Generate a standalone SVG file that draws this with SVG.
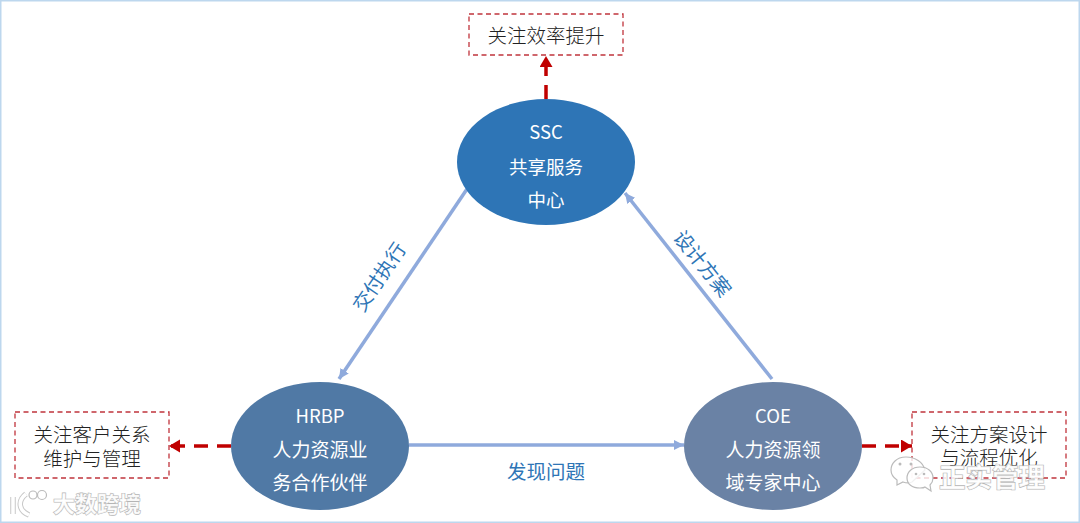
<svg xmlns="http://www.w3.org/2000/svg" width="1080" height="523" viewBox="0 0 1080 523">
<style>
text{font-family:"Noto Sans CJK SC","Liberation Sans",sans-serif;text-anchor:middle}
.n{font-size:18.500px;fill:#fff}
.n5{font-size:19px;fill:#fff}
.b{font-size:19.500px;fill:#222;font-weight:300}
.l{font-size:19.500px;fill:#2e75b6}
.box{fill:#fff;stroke:#c0343c;stroke-width:1.300;stroke-dasharray:5 3.500}
.flow{stroke:#8faadc;stroke-width:3.500;fill:none;marker-end:url(#blue)}
.focus{stroke:#c00000;stroke-width:3.500;fill:none;stroke-dasharray:14 9;marker-end:url(#red)}
.wm{font-weight:700;fill:#fff;stroke:#b5b5b5;stroke-width:1.200;paint-order:stroke;fill-opacity:.85}
.bub{fill:#fff;fill-opacity:.8;stroke:#bbb;stroke-width:1.200}
.logo{fill:none;stroke:#fff;stroke-width:3.500}
.logob{fill:none;stroke:#c8c8c8;stroke-width:5.500}
</style>
<defs>
<marker id="blue" markerUnits="userSpaceOnUse" markerWidth="12" markerHeight="12" refX="10" refY="5" orient="auto"><path d="M0 0L10 5L0 10Z" fill="#8faadc"/></marker>
<marker id="red" markerUnits="userSpaceOnUse" markerWidth="13" markerHeight="14" refX="11" refY="6.500" orient="auto"><path d="M0 0L11 6.500L0 13Z" fill="#c00000"/></marker>
</defs>
<rect x="0.750" y="0.750" width="1078.500" height="521.500" fill="#fff" stroke="#bdd7ee" stroke-width="1.500"/>
<g id="connectors">
<path class="flow" d="M467 189L339 379"/>
<path class="flow" d="M772 379L625 193"/>
<path class="flow" d="M409 445H684"/>
<path class="focus" d="M546 99V56"/>
<path class="focus" d="M231 446H169"/>
<path class="focus" d="M862 446H912"/>
</g>
<g id="ssc"><ellipse cx="546" cy="162" rx="89" ry="63" fill="#2e75b6"/><text class="n" x="546" y="139">SSC</text><text class="n" x="546" y="174">共享服务</text><text class="n" x="546" y="207">中心</text></g>
<g id="hrbp"><ellipse cx="320" cy="446" rx="89" ry="64" fill="#5079a5"/><text class="n" x="320" y="423">HRBP</text><text class="n5" x="320" y="457">人力资源业</text><text class="n5" x="320" y="490">务合作伙伴</text></g>
<g id="coe"><ellipse cx="773" cy="446" rx="89" ry="64" fill="#6a82a5"/><text class="n" x="773" y="423">COE</text><text class="n5" x="773" y="457">人力资源领</text><text class="n5" x="773" y="490">域专家中心</text></g>
<g id="efficiency"><rect class="box" x="469" y="14" width="154" height="41"/><text class="b" x="546" y="43">关注效率提升</text></g>
<g id="customer"><rect class="box" x="15" y="412" width="154" height="66"/><text class="b" x="92" y="442">关注客户关系</text><text class="b" x="92" y="466">维护与管理</text></g>
<g id="design"><rect class="box" x="912" y="412" width="154" height="66"/><text class="b" x="989" y="442">关注方案设计</text><text class="b" x="989" y="465">与流程优化</text></g>
<text class="l" transform="translate(385 281) rotate(-56)">交付执行</text>
<text class="l" transform="translate(697 268) rotate(51)">设计方案</text>
<text class="l" x="546" y="479">发现问题</text>
<g id="watermarks">
<text class="wm" x="97" y="512" font-size="22">大数跨境</text>
<path class="logob" d="M13 497V514M26 494C17 501 19 511 29 515"/><path class="logo" d="M13 497V514M26 494C17 501 19 511 29 515"/>
<circle class="bub" cx="33" cy="495" r="4"/><circle class="bub" cx="42" cy="495" r="4.500"/>
<path class="bub" d="M906 457C896 457 891 464 891 470C891 475 894 478 897 480L897 485L903 482C906 483 910 483 912 482L925 470C923 462 915 457 906 457Z"/>
<path class="bub" d="M920 467C912 467 907 472 907 478C907 484 912 488 920 488C922 488 924 488 925 487L931 491L930 485C932 483 933 481 933 478C933 472 928 467 920 467Z"/>
<g fill="#bbb"><circle cx="900" cy="464" r="1.500"/><circle cx="911" cy="464" r="1.500"/><circle cx="916" cy="474" r="1.300"/><circle cx="924" cy="474" r="1.300"/></g>
<text class="wm" x="992" y="487" font-size="26.500">正实管理</text>
</g>
</svg>
